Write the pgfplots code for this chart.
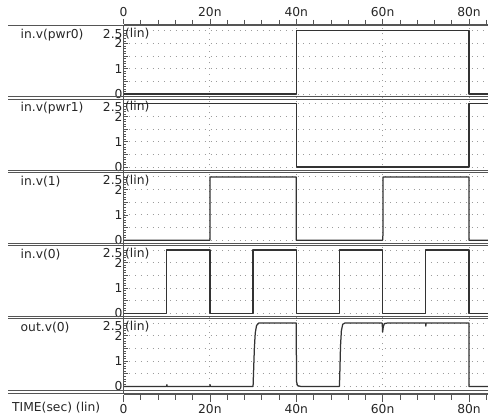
\documentclass[border=0pt]{standalone}
\usepackage{pgfplots}
\pgfplotsset{compat=1.18}
\usepackage{fontspec}
\setmainfont{DejaVu Sans}
\definecolor{wave}{HTML}{333333}
\definecolor{axcol}{HTML}{555555}
\definecolor{gridcol}{HTML}{9C9C9C}
\newcommand{\lab}{\fontsize{12.3bp}{14bp}\selectfont}
\pgfplotsset{
 wf/.style={wave, line width=1.25bp, line join=round, mark=none},
 panel/.style={
  scale only axis, width=364.5bp, height=73.1bp, anchor=north west,
  xmin=0, xmax=84.4, ymin=-0.162, ymax=2.725,
  axis line style={draw=none},
  xtick=\empty,
  extra x ticks={20,40,60,80}, extra x tick labels={},
  extra x tick style={grid=major, major tick length=0pt},
  ytick={0,0.5,1,1.5,2,2.5},
  yticklabels={0,,1,,2,\raisebox{-7.5bp}[0pt][0pt]{2.5}},
  minor ytick={0,0.1,...,2.5},
  ytick pos=left, tick align=inside,
  major tick length=4bp, minor tick length=2.5bp,
  tick style={axcol, line width=0.6bp},
  ymajorgrids,
  major grid style={gridcol, line width=0.9bp, dash pattern=on 0.9bp off 4.9bp},
  yticklabel style={font=\lab, inner sep=0.8bp, text=black!85},
 },
 ruler/.style={
  scale only axis, width=364.5bp, height=1bp,
  xmin=0, xmax=84.4, ymin=0, ymax=1,
  axis y line=none,
  xtick={0,20,40,60,80}, xticklabels={0,20n,40n,60n,80n},
  minor xtick={0,4,...,84},
  tick align=outside,
  tick style={axcol, line width=0.6bp},
  x axis line style={axcol, line width=0.8bp, -},
  xticklabel style={font=\lab, text=black!85},
 },
}
\begin{document}
\begin{tikzpicture}[x=1bp,y=1bp]
\useasboundingbox (0,0) rectangle (488,416);

% top ruler
\begin{axis}[ruler, axis x line*=top, at={(123.5bp,391bp)}, anchor=south west,
  major tick length=5bp, minor tick length=4bp, xticklabel style={inner sep=2bp}]
\addplot[draw=none] coordinates {(0,0)};
\end{axis}
% bottom ruler
\begin{axis}[ruler, axis x line*=bottom, at={(123.5bp,22.5bp)}, anchor=north west,
  major tick length=7.5bp, minor tick length=5bp, xticklabel style={inner sep=2.2bp}]
\addplot[draw=none] coordinates {(0,1)};
\end{axis}

% panel 1: in.v(pwr0)
\begin{axis}[panel, at={(123.5bp,391bp)}]
\addplot[wf] coordinates {(0,0) (40,0) (40,2.5) (80,2.5) (80,0) (84.4,0)};
\end{axis}
% panel 2: in.v(pwr1)
\begin{axis}[panel, at={(123.5bp,317.9bp)}]
\addplot[wf] coordinates {(0,2.5) (40,2.5) (40,0) (80,0) (80,2.5) (84.4,2.5)};
\end{axis}
% panel 3: in.v(1)
\begin{axis}[panel, at={(123.5bp,244.8bp)}]
\addplot[wf] coordinates {(0,0) (20,0) (20,2.5) (40,2.5) (40,0) (60,0) (60.1,0.3) (60.1,2.5) (80,2.5) (80,0) (84.4,0)};
\end{axis}
% panel 4: in.v(0)
\begin{axis}[panel, at={(123.5bp,171.7bp)}]
\addplot[wf] coordinates {(0,0) (10,0) (10,2.5) (20,2.5) (20,0) (30,0) (30,2.5) (40,2.5) (40,0) (50,0) (50,2.5) (60,2.5) (60,0) (70,0) (70,2.5) (80,2.5) (80,0) (84.4,0)};
\end{axis}
% panel 5: out.v(0)
\begin{axis}[panel, at={(123.5bp,98.6bp)}]
\addplot[wf] coordinates {(0,0) (10,0) (10.05,0.07) (10.1,0) (20,0) (20.05,0.07) (20.1,0) (30,0) (30.1,0.5) (30.3,1.5) (30.5,2.1) (30.8,2.4) (31.3,2.5) (40,2.5) (40.05,0.2) (40.3,0.03) (41,0) (50,0) (50.1,0.6) (50.25,1.6) (50.45,2.2) (50.75,2.45) (51.2,2.5) (59.9,2.5) (60,2.15) (60.15,2.35) (60.4,2.48) (61,2.5) (69.95,2.5) (70,2.38) (70.05,2.5) (80,2.5) (80,0) (84.4,0)};
\end{axis}

% separators
\draw[axcol, line width=0.8bp] (8,391) -- (488,391);
\foreach \s in {98.1,171.2,244.3,317.4}{
  \draw[axcol, line width=0.7bp] (8,416-\s+1.3) -- (488,416-\s+1.3);
  \draw[axcol, line width=0.7bp] (8,416-\s-1.3) -- (488,416-\s-1.3);
}
\draw[axcol, line width=0.7bp] (8,416-390.5) -- (488,416-390.5);
\draw[axcol, line width=0.8bp] (8,22.5) -- (488,22.5);
% y axis line
\draw[axcol, line width=0.8bp] (123.5,391) -- (123.5,22.5);

% labels
\foreach \s/\t in {25/in.v(pwr0),98.1/in.v(pwr1),171.2/in.v(1),244.3/in.v(0),317.4/out.v(0)}{
  \node[anchor=west, inner sep=0, font=\lab, text=black!85] at (20.5,416-\s-10.5) {\t};
  \node[anchor=west, inner sep=0, font=\lab, text=black!85] at (125,416-\s-9) {(lin)};
}
\node[anchor=west, inner sep=0, font=\lab, text=black!85] at (12,8.8) {TIME(sec) (lin)};
\end{tikzpicture}
\end{document}
